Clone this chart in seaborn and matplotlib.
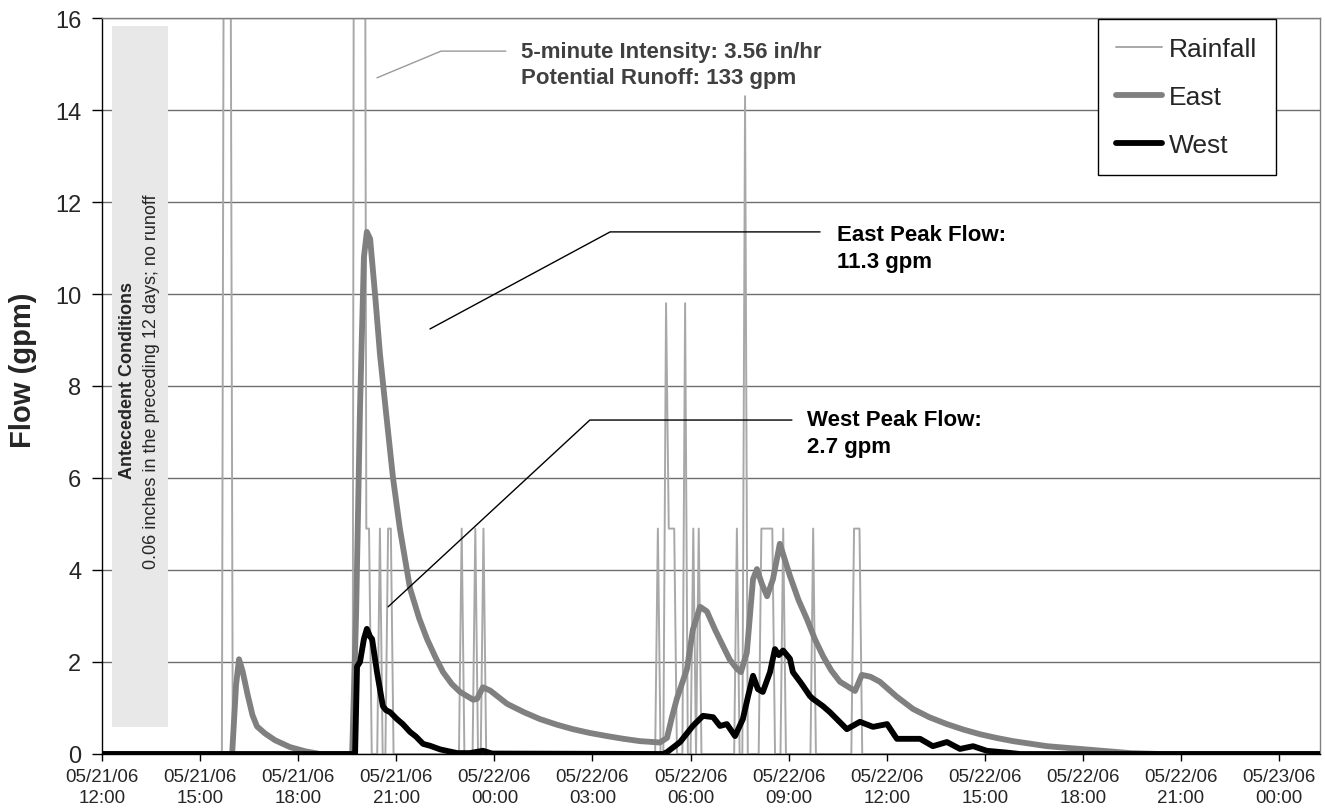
import numpy as np
import pandas as pd
import matplotlib
matplotlib.use("Agg")
import matplotlib.pyplot as plt
import seaborn as sns
from matplotlib.patches import Rectangle

# ---------------- data (time = hours after 05/21/06 12:00) ----------------
east_t = [0.0, 3.98, 4.10, 4.19, 4.30, 4.45, 4.60, 4.74, 4.98, 5.29, 5.75, 6.21, 6.67,
          7.65, 7.77, 7.89, 8.01, 8.10, 8.20, 8.35, 8.50, 8.69, 8.90, 9.11, 9.42,
          9.70, 9.94, 10.20, 10.43, 10.70, 10.95, 11.35, 11.47, 11.65, 11.87, 12.39,
          12.90, 13.39, 13.90, 14.40, 14.90, 15.44, 15.95, 16.45, 17.06, 17.28,
          17.43, 17.58, 17.89, 18.07, 18.29, 18.50, 18.75, 18.99, 19.20, 19.42,
          19.54, 19.72, 19.91, 20.03, 20.18, 20.34, 20.52, 20.73, 21.04, 21.30,
          21.56, 21.80, 22.05, 22.30, 22.57, 23.03, 23.24, 23.50, 23.79, 24.30,
          24.80, 25.30, 25.84, 26.35, 26.85, 27.35, 27.86, 28.90, 29.91, 31.44,
          32.35, 37.25]
east_gpm = [0.0, 0.0, 1.5, 2.06, 1.8, 1.3, 0.85, 0.6, 0.45, 0.3, 0.15, 0.06, 0.0,
            0.0, 3.0, 7.5, 10.8, 11.35, 11.2, 10.0, 8.7, 7.4, 6.0, 4.9, 3.6,
            2.95, 2.5, 2.1, 1.78, 1.52, 1.35, 1.18, 1.2, 1.45, 1.38, 1.09,
            0.91, 0.76, 0.64, 0.54, 0.46, 0.39, 0.33, 0.28, 0.25, 0.35,
            0.8, 1.2, 1.85, 2.7, 3.2, 3.1, 2.7, 2.35, 2.05, 1.85,
            1.78, 2.2, 3.8, 4.02, 3.7, 3.43, 3.8, 4.57, 3.87, 3.35,
            2.93, 2.5, 2.13, 1.82, 1.57, 1.37, 1.72, 1.68, 1.57, 1.25,
            0.98, 0.80, 0.65, 0.53, 0.43, 0.35, 0.28, 0.17, 0.11, 0.02,
            0.0, 0.0]

west_t = [0.0, 7.74, 7.80, 7.89, 8.01, 8.10, 8.20, 8.26, 8.41, 8.59, 8.69, 8.81,
          9.02, 9.20, 9.42, 9.60, 9.82, 10.03, 10.34, 10.86, 11.25, 11.65, 11.93,
          17.16, 17.28, 17.68, 18.07, 18.38, 18.69, 18.90, 19.11, 19.36, 19.60,
          19.76, 19.91, 20.06, 20.21, 20.43, 20.58, 20.70, 20.83, 21.04, 21.13,
          21.35, 21.44, 21.65, 21.74, 22.05, 22.26, 22.78, 23.18, 23.58, 24.01,
          24.31, 25.02, 25.41, 25.84, 26.24, 26.64, 27.06, 27.68, 28.07, 37.25]
west_gpm = [0.0, 0.0, 1.9, 2.0, 2.5, 2.72, 2.55, 2.5, 1.78, 1.04, 0.95, 0.91,
            0.76, 0.65, 0.48, 0.38, 0.22, 0.18, 0.1, 0.02, 0.02, 0.07, 0.01,
            0.0, 0.04, 0.26, 0.61, 0.83, 0.8, 0.61, 0.65, 0.39, 0.76,
            1.26, 1.7, 1.41, 1.35, 1.78, 2.28, 2.15, 2.25, 2.07, 1.78,
            1.57, 1.48, 1.26, 1.2, 1.04, 0.91, 0.54, 0.7, 0.59, 0.65,
            0.33, 0.33, 0.17, 0.26, 0.11, 0.17, 0.07, 0.03, 0.0, 0.0]

# rainfall as runoff-equivalent gpm, per 5-minute interval (interval no. after 12:00)
rain_interval = [45, 46, 47,
                 93, 94, 95, 96, 97, 98, 102, 105, 106,
                 132, 137, 140,
                 204, 207, 208, 209, 210, 214, 217, 219, 233, 236,
                 242, 243, 244, 245, 246, 250, 261, 276, 277, 278]
rain_gpm = [26.9, 40.4, 22.4,
            44.8, 133.0, 89.7, 35.9, 4.9, 4.9, 4.9, 4.9, 4.9,
            4.9, 4.9, 4.9,
            4.9, 9.8, 4.9, 4.9, 4.9, 9.8, 4.9, 4.9, 4.9, 14.3,
            4.9, 4.9, 4.9, 4.9, 4.9, 4.9, 4.9, 4.9, 4.9, 4.9]
n_intervals = 448

tick_hours = [0, 3, 6, 9, 12, 15, 18, 21, 24, 27, 30, 33, 36]
tick_labels = ["05/21/06\n12:00", "05/21/06\n15:00", "05/21/06\n18:00",
               "05/21/06\n21:00", "05/22/06\n00:00", "05/22/06\n03:00",
               "05/22/06\n06:00", "05/22/06\n09:00", "05/22/06\n12:00",
               "05/22/06\n15:00", "05/22/06\n18:00", "05/22/06\n21:00",
               "05/23/06\n00:00"]
y_ticks = [0, 2, 4, 6, 8, 10, 12, 14, 16]

# ---------------- styling ----------------
sns.set_style("white")
plt.rcParams['font.family'] = ['Liberation Sans', 'DejaVu Sans']

rain_values = np.zeros(n_intervals)
rain_values[rain_interval] = rain_gpm
rain_df = pd.DataFrame({"hours": np.arange(n_intervals) / 12.0, "gpm": rain_values})
east_df = pd.DataFrame({"hours": east_t, "gpm": east_gpm})
west_df = pd.DataFrame({"hours": west_t, "gpm": west_gpm})

fig = plt.figure(figsize=(13.25, 8.12), dpi=100)
ax = fig.add_axes([102 / 1325, 57 / 812, 1218 / 1325, 736 / 812])

sns.lineplot(data=rain_df, x="hours", y="gpm", ax=ax, color="#a8a8a8", lw=1.4,
             label="Rainfall", estimator=None, sort=False, zorder=2)
sns.lineplot(data=east_df, x="hours", y="gpm", ax=ax, color="#808080", lw=4.2,
             label="East", estimator=None, sort=False, zorder=3)
sns.lineplot(data=west_df, x="hours", y="gpm", ax=ax, color="black", lw=4.2,
             label="West", estimator=None, sort=False, zorder=4)

ax.set_xlim(0, 37.25)
ax.set_ylim(0, 16)
ax.set_xticks(tick_hours)
ax.set_xticklabels(tick_labels, fontsize=13.5, linespacing=1.3)
ax.set_yticks(y_ticks)
ax.set_yticklabels([str(v) for v in y_ticks], fontsize=17)
ax.tick_params(axis="x", bottom=True, direction="out", length=5, width=1,
               color="black", pad=5)
ax.tick_params(axis="y", left=True, direction="out", length=7, width=1,
               color="black", pad=8)
ax.set_xlabel("")
ax.set_ylabel("Flow (gpm)", fontsize=21, fontweight="bold")
ax.yaxis.set_label_coords(-0.053, 0.523)

ax.yaxis.grid(True, color="#6e6e6e", lw=1.0)
ax.xaxis.grid(False)
ax.set_axisbelow(True)
for side in ("left", "bottom"):
    ax.spines[side].set_color("black")
    ax.spines[side].set_linewidth(1.0)
for side in ("top", "right"):
    ax.spines[side].set_color("#808080")
    ax.spines[side].set_linewidth(1.0)

# antecedent conditions box
ax.add_patch(Rectangle((0.0082, 0.0367), 0.0460, 0.9523, transform=ax.transAxes,
                       facecolor="#e8e8e8", edgecolor="none", zorder=1))
ax.text(0.0213, 0.5095, "Antecedent Conditions", transform=ax.transAxes,
        rotation=90, ha="center", va="center", fontsize=13, fontweight="bold",
        zorder=5)
ax.text(0.0410, 0.507, "0.06 inches in the preceding 12 days; no runoff",
        transform=ax.transAxes, rotation=90, ha="center", va="center",
        fontsize=13, zorder=5)

# callouts
ax.plot([8.41, 10.37, 12.35], [14.70, 15.28, 15.28], color="#9a9a9a", lw=1.0,
        zorder=5)
ax.text(12.81, 14.99, "5-minute Intensity: 3.56 in/hr\nPotential Runoff: 133 gpm",
        ha="left", va="center", fontsize=16, fontweight="bold",
        color="#404040", linespacing=1.35, zorder=5)

ax.plot([10.03, 15.54, 21.96], [9.24, 11.35, 11.35], color="black", lw=1.0,
        zorder=5)
ax.text(22.48, 11.0, "East Peak Flow:\n11.3 gpm", ha="left", va="center",
        fontsize=16, fontweight="bold", color="black", linespacing=1.35,
        zorder=5)

ax.plot([8.75, 14.92, 21.10], [3.2, 7.26, 7.26], color="black", lw=1.0,
        zorder=5)
ax.text(21.56, 6.98, "West Peak Flow:\n2.7 gpm", ha="left", va="center",
        fontsize=16, fontweight="bold", color="black", linespacing=1.35,
        zorder=5)

# legend
leg = ax.legend(loc="upper right", bbox_to_anchor=(1276 / 1325, 1 - 20 / 812),
                bbox_transform=fig.transFigure, fontsize=19, frameon=True,
                fancybox=False, framealpha=1, edgecolor="black",
                borderpad=0.7, labelspacing=0.9, handlelength=1.75,
                handletextpad=0.27, borderaxespad=0)
leg.get_frame().set_linewidth(1.0)
leg.set_zorder(10)

fig.savefig("out.png", dpi=100)
